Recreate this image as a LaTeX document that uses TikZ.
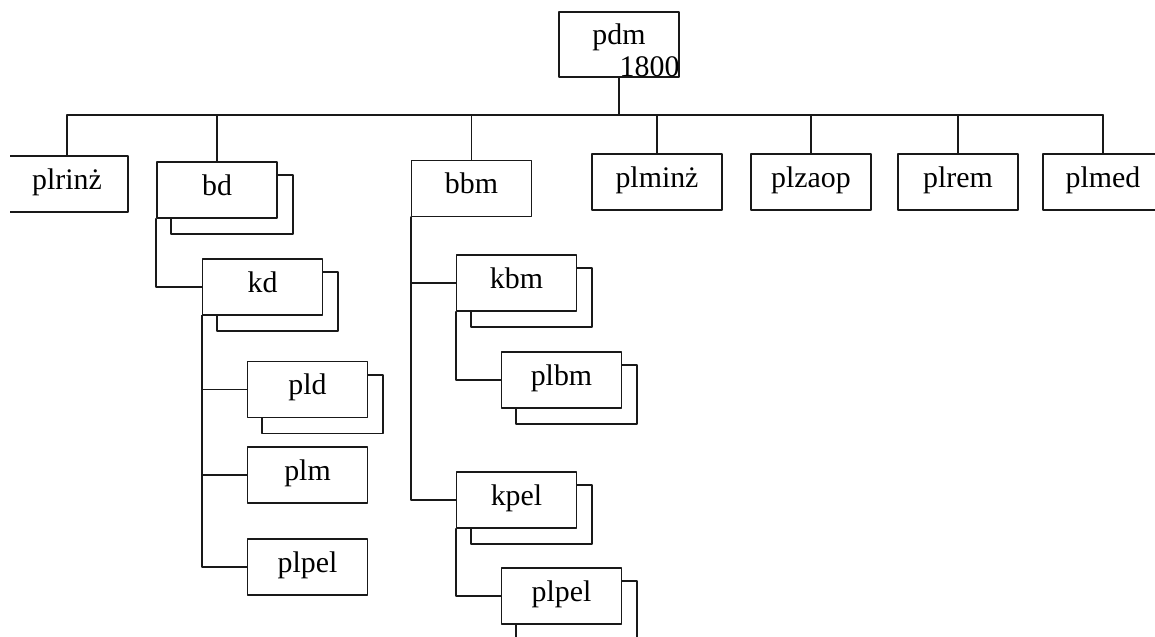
\documentclass[tikz,border=0pt]{standalone}
\usepackage{fontspec}
\setmainfont{Liberation Serif}
\usetikzlibrary{calc}

\tikzset{
  unit/.style={draw=black!90, line width=0.9pt, minimum width=2.4cm, minimum height=1.12cm,
    inner sep=0pt, text height=11pt, text depth=5pt},
  link/.style={draw=black!90, line width=0.9pt},
}

\begin{document}
\begin{tikzpicture}[x=0.02cm, y=-0.02cm, line cap=round, line join=round,
  every node/.append style={font=\fontsize{17}{20}\selectfont}]

\useasboundingbox (0,0) rectangle (1155,636);
\clip (10,0) rectangle (1155,636);

%---------------------------------------------------------------------------------------------------
% head
\node[unit, minimum height=1.3cm] (pdm) at (619,44.5) {};
\node (pdmname) at (619,37) {pdm};
\node[anchor=south east, inner sep=0pt, text depth=0pt] (pdmnum) at ($(pdm.south east)+(0,-1)$) {1800};
\coordinate (bus) at (619,115);

% first row
\node[unit, minimum width=2.44cm] (plrinz) at (67,184) {plrinż};
\node[unit] (bd) at (217,190) {bd};
\node[unit] (bbm) at (471.5,188.5) {bbm};
\node[unit, minimum width=2.6cm] (plminz) at (657,182) {plminż};
\node[unit] (plzaop) at (811,182) {plzaop};
\node[unit] (plrem) at (958,182) {plrem};
\node[unit] (plmed) at (1103,182) {plmed};

%---------------------------------------------------------------------------------------------------
% bd
\node[unit] (kd) at (262.5,287) {kd};
\node[unit] (pld) at (307.5,389.5) {pld};
\node[unit] (plm) at (307.5,475) {plm};
\node[unit] (plpel) at (307.5,567) {plpel};

% bbm
\node[unit] (kbm) at (516.5,283) {kbm};
\node[unit] (plbm) at (561.5,380) {plbm};
\node[unit] (kpel) at (516.5,500) {kpel};
\node[unit] (plpelb) at (561.5,596) {plpel};

%---------------------------------------------------------------------------------------------------
% second sheet behind the boxes
\foreach \n in {bd,kd,pld,kbm,plbm,kpel,plpelb}
  \draw[link] ($(\n.south west)+(15,0)$) -- ($(\n.south west)+(15,15)$)
    -- ($(\n.south east)+(15,15)$) -- ($(\n.north east)+(15,14)$) -- ($(\n.north east)+(0,14)$);

% lines
\draw[link] (pdm.south) -- (bus);
\draw[link] (plrinz.north |- bus) -- (plmed.north |- bus);
\foreach \n in {plrinz,bd,bbm,plminz,plzaop,plrem,plmed}
  \draw[link] (\n.north) -- (\n.north |- bus);

\draw[link] (bd.south west) |- (kd.west);
\foreach \n in {pld,plm,plpel}
  \draw[link] (kd.south west) |- (\n.west);

\foreach \n in {kbm,kpel}
  \draw[link] (bbm.south west) |- (\n.west);
\draw[link] (kbm.south west) |- (plbm.west);
\draw[link] (kpel.south west) |- (plpelb.west);

\end{tikzpicture}
\end{document}
